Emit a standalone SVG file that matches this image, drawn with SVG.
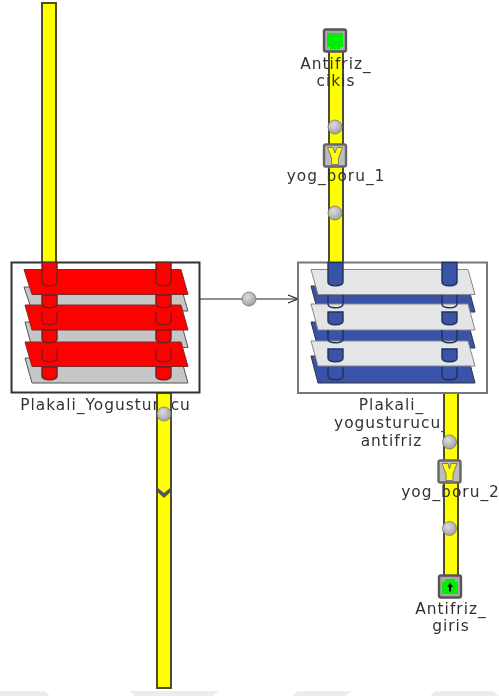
<svg xmlns="http://www.w3.org/2000/svg" width="499" height="696" viewBox="0 0 499 696">
<style>
text{font-family:"DejaVu Sans",sans-serif;font-size:15.4px;letter-spacing:1px;fill:#333;text-anchor:middle}
.pipe{fill:#ff0;stroke:#4d4d33;stroke-width:2}
.box{fill:#fff;stroke-width:2}
.red{fill:#f00;stroke:#7a2a2a;stroke-width:1}
.gray{fill:#c6c6c6;stroke:#555;stroke-width:1}
.lg{fill:#e4e5e7;stroke:#888;stroke-width:1}
.blue{fill:#3953a8;stroke:#333;stroke-width:1}
.rp{fill:#f00;stroke:#702020;stroke-width:1.4}
.bp{fill:#3953a8;stroke:#26305a;stroke-width:1.4}
.rc{fill:none;stroke:#702020;stroke-width:1.4}
.bc{fill:none;stroke:#26305a;stroke-width:1.4}
.ball{fill:url(#b);stroke:#777;stroke-width:.8}
.val{fill:#bdbdbd;stroke:#666;stroke-width:2.4}
.port{fill:#a8a8a8;stroke:#555;stroke-width:2.4}
.wire{fill:none;stroke:#222;stroke-width:1.2}
</style>
<defs>
<radialGradient id="b" cx=".4" cy=".35" r=".75"><stop offset="0" stop-color="#ddd"/><stop offset="1" stop-color="#999"/></radialGradient>
<filter id="s" x="-2%" y="-2%" width="104%" height="104%"><feGaussianBlur stdDeviation=".45"/></filter>
<marker id="a" viewBox="0 0 12 10" refX="11" refY="5" markerWidth="12" markerHeight="10" markerUnits="userSpaceOnUse" orient="auto"><path d="M1 1L11 5L1 9" fill="none" stroke="#222" stroke-width="1.2"/></marker>
<path id="top" d="M0 262.500H15V282C15 287 0 287 0 282Z"/>
<path id="seg" d="M0 0H15V9C15 14 0 14 0 9Z"/>
<path id="open" d="M0 0V9C0 14 15 14 15 9V0"/>
</defs>
<g fill="#ededed"><path d="M0 691H44L50 696H0Z"/><path d="M130 691H219L212 696H135Z"/><path d="M298 691H352L345 696H292Z"/><path d="M436 691H492L499 696H430Z"/></g>
<g filter="url(#s)">
<g id="connectors">
<rect class="pipe" x="42" y="3" width="14" height="261"/>
<rect class="pipe" x="329" y="40" width="14" height="224"/>
<path class="wire" d="M200 299H243"/>
<path class="wire" d="M255 299H298" marker-end="url(#a)"/>
<circle class="ball" cx="249" cy="299" r="7"/>
</g>
<g id="Plakali_Yogusturucu">
<text x="105.500" y="410">Plakali_Yogusturucu</text>
<rect class="pipe" x="157" y="393" width="14" height="295"/>
<path d="M158 488L164 493L170 488V492.500L164 498L158 492.500Z" fill="#555"/>
<circle class="ball" cx="164" cy="414" r="7"/>
<rect class="box" stroke="#333" x="11.500" y="262.500" width="188" height="130"/>
<path class="gray" d="M24 287H181L188 311H32Z"/>
<path class="red" d="M24 269.500H181L188 294.500H32Z"/>
<path class="gray" d="M25 322H181L188 347.500H32Z"/>
<path class="red" d="M25 305H181L188 330H32Z"/>
<path class="gray" d="M25 358H181L188 383H32Z"/>
<path class="red" d="M25 342H181L188 366.500H32Z"/>
<g transform="translate(42 0)">
<use href="#top" class="rp"/>
<use href="#seg" class="rp" y="295"/>
<use href="#open" class="rc" y="312"/>
<use href="#seg" class="rp" y="330"/>
<use href="#open" class="rc" y="349"/>
<use href="#seg" class="rp" y="367"/>
</g>
<g transform="translate(156 0)">
<use href="#top" class="rp"/>
<use href="#seg" class="rp" y="295"/>
<use href="#open" class="rc" y="312"/>
<use href="#seg" class="rp" y="330"/>
<use href="#open" class="rc" y="349"/>
<use href="#seg" class="rp" y="367"/>
</g>
</g>
<g id="Plakali_yogusturucu_antifriz">
<text x="391.500" y="410">Plakali_</text>
<text x="392" y="428">yogusturucu_</text>
<text x="391.500" y="446">antifriz</text>
<rect class="pipe" x="444" y="393" width="14" height="184"/>
<rect class="box" stroke="#777" x="298" y="262.500" width="189" height="130.500"/>
<path class="blue" d="M311 286H468L475 312H318Z"/>
<path class="lg" d="M311 269.500H468L475 294.500H318Z"/>
<path class="blue" d="M311 322H468L475 348H318Z"/>
<path class="lg" d="M311 304H468L475 330H318Z"/>
<path class="blue" d="M311 356H468L475 383H318Z"/>
<path class="lg" d="M311 341H468L475 366H318Z"/>
<g transform="translate(328 0)">
<use href="#top" class="bp"/>
<use href="#open" class="bc" y="295"/>
<use href="#seg" class="bp" y="312"/>
<use href="#open" class="bc" y="330"/>
<use href="#seg" class="bp" y="349"/>
<use href="#open" class="bc" y="367"/>
</g>
<g transform="translate(442 0)">
<use href="#top" class="bp"/>
<use href="#open" class="bc" y="295"/>
<use href="#seg" class="bp" y="312"/>
<use href="#open" class="bc" y="330"/>
<use href="#seg" class="bp" y="349"/>
<use href="#open" class="bc" y="367"/>
</g>
</g>
<g id="Antifriz_cikis">
<rect class="port" x="324" y="29.500" width="22" height="22" rx="2"/>
<path d="M327 33H343V47H340V49H330V47H327Z" fill="#0e0"/>
<text x="336" y="69">Antifriz_</text>
<text x="336" y="86">cikis</text>
</g>
<g id="yog_boru_1">
<circle class="ball" cx="335" cy="127" r="7"/>
<rect class="val" x="324" y="144.500" width="22" height="22" rx="2"/>
<path d="M327.500 147.500H333L335 153L337 147.500H342.500L338.500 158V164.500H331.500V158Z" fill="#ff0" stroke="#666" stroke-width=".8"/>
<text x="336" y="181">yog_boru_1</text>
<circle class="ball" cx="335" cy="213" r="7"/>
</g>
<g id="yog_boru_2">
<circle class="ball" cx="449.500" cy="442" r="7"/>
<rect class="val" x="438.500" y="460.500" width="22" height="22" rx="2"/>
<path d="M442 463.500H448L449.500 469L451 463.500H457L453 474V480.500H446V474Z" fill="#ff0" stroke="#666" stroke-width=".8"/>
<text x="450.500" y="497">yog_boru_2</text>
<circle class="ball" cx="449.500" cy="528.500" r="7"/>
</g>
<g id="Antifriz_giris">
<rect class="port" x="439" y="575.500" width="22" height="22" rx="2"/>
<path d="M442 582H445V579H455V582H458V594H442Z" fill="#0e0"/>
<path d="M450 583L453 587H451V591.500H449V587H447Z" fill="#111"/>
<text x="451" y="614">Antifriz_</text>
<text x="451" y="631">giris</text>
</g>
</g>
</svg>
